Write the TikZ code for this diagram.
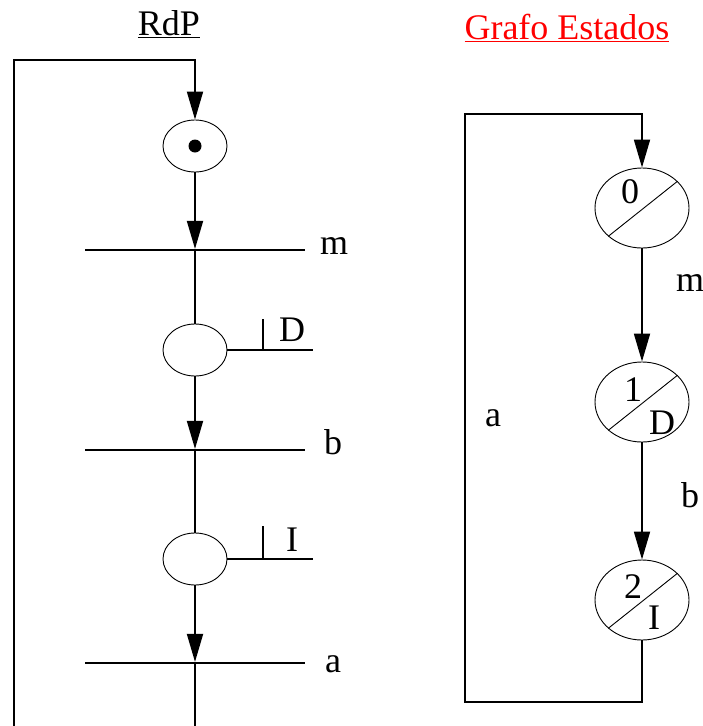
\documentclass[tikz,border=0pt]{standalone}
\usepackage{fontspec}
\setmainfont{Liberation Serif}
\usetikzlibrary{arrows.meta,shapes.geometric,positioning}

\tikzset{
  arc/.style={line width=1.8pt, -{Triangle[length=28pt,width=16pt]}},
  link/.style={line width=1.8pt},
  place/.style={draw, ellipse, line width=0.9pt, minimum width=64pt, minimum height=52pt, inner sep=0pt},
  trans/.style={fill=black, minimum width=220pt, minimum height=1.8pt, inner sep=0pt},
  state/.style={draw, ellipse, line width=0.9pt, minimum width=94pt, minimum height=80pt, inner sep=0pt},
  lbl/.style={font=\fontsize{36}{43}\selectfont, inner sep=0pt},
}

\begin{document}
\begin{tikzpicture}[x=1pt, y=-1pt]
    \useasboundingbox (0,0) rectangle (703,726);

    % titles
    \node[lbl, anchor=base] (rdp) at (169,35) {\underline{RdP}};
    \node[lbl, anchor=base, text=red] (grafo) at (567,39) {\underline{Grafo Estados}};

    % Petri net
    \node[place] (p0) at (195,146) {};
    \fill (p0) circle (6.5pt);
    \node[trans] (tm) at (195,250) {};
    \node[place] (p1) at (195,350) {};
    \node[trans] (tb) at (195,450) {};
    \node[place] (p2) at (195,559) {};
    \node[trans] (ta) at (195,663) {};

    \node[lbl] (lm) at (334,246) {m};
    \node[lbl] (lb) at (333,442) {b};
    \node[lbl] (la) at (333,664) {a};
    \node[lbl] (lD) at (292,330) {D};
    \node[lbl] (lI) at (292,540) {I};

    \draw[arc] (p0) -- (tm);
    \draw[link] (tm) -- (p1);
    \draw[arc] (p1) -- (tb);
    \draw[link] (tb) -- (p2);
    \draw[arc] (p2) -- (ta);

    % outputs D and I
    \coordinate (outD) at (313,350);
    \coordinate (tickD) at (263,350);
    \coordinate (outI) at (313,559);
    \coordinate (tickI) at (263,559);
    \draw[link] (p1.east) -- (outD);
    \draw[link] (tickD) -- ++(0,-31);
    \draw[link] (p2.east) -- (outI);
    \draw[link] (tickI) -- ++(0,-33);

    % loop back
    \coordinate (topL) at (195,60);
    \coordinate (botL) at (14,726);
    \coordinate (endL) at (195,726);
    \draw[link] (ta) -- (endL);
    \draw[arc] (botL) |- (topL) -- (p0);

    % state graph
    \node[state] (s0) at (642,208) {};
    \node[state] (s1) at (642,402) {};
    \node[state] (s2) at (642,600) {};
    \foreach \s in {s0,s1,s2}
        \draw[line width=0.9pt] (\s.220) -- (\s.37);

    \node[lbl] (n0) at ([shift={(-12,-16)}]s0) {0};
    \node[lbl] (n1) at ([shift={(-9,-12)}]s1) {1};
    \node[lbl] (d1) at ([shift={(20,21)}]s1) {D};
    \node[lbl] (n2) at ([shift={(-9,-13)}]s2) {2};
    \node[lbl] (d2) at ([shift={(12,18)}]s2) {I};

    \draw[arc] (s0) -- (s1);
    \draw[arc] (s1) -- (s2);

    \node[lbl] (em) at (690,283) {m};
    \node[lbl] (eb) at (690,495) {b};
    \node[lbl] (ea) at (493,418) {a};

    \coordinate (gtop) at (642,114);
    \coordinate (gbot) at (465,702);
    \draw[arc] (s2.south) |- (gbot) |- (gtop) -- (s0.north);
\end{tikzpicture}
\end{document}
